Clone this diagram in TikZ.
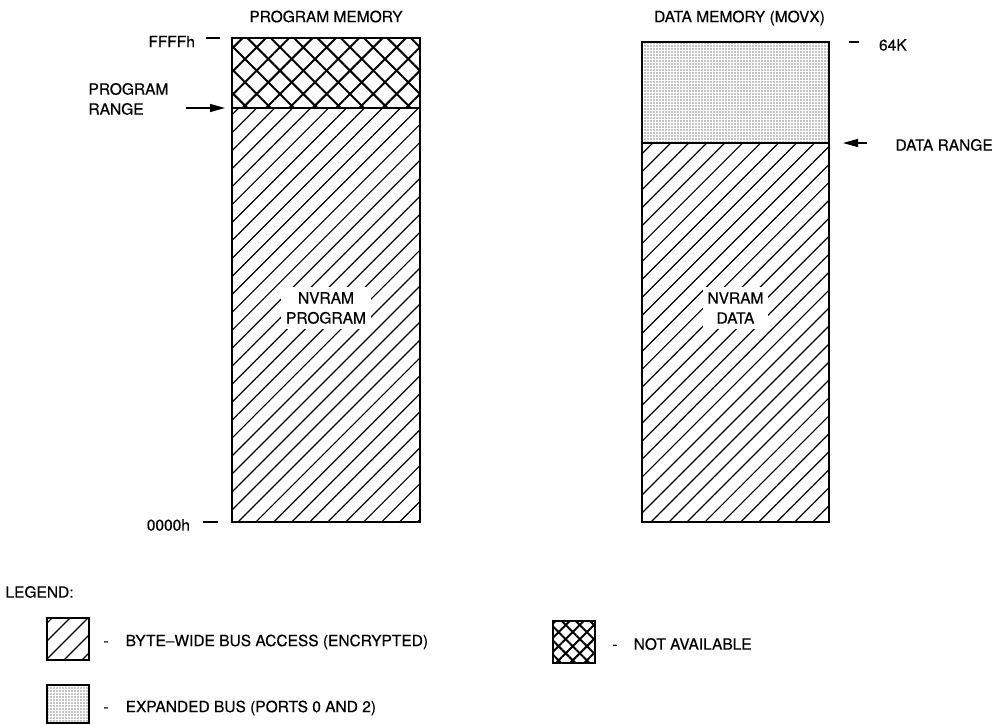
\documentclass[tikz,border=0pt]{standalone}
\usepackage{fontspec}
\setmainfont{TeX Gyre Heros}
\newfontfamily\diagfont{TeX Gyre Heros}[FakeBold=0.4, Ligatures=TeX]
\usetikzlibrary{arrows.meta,positioning,patterns.meta}

\begin{document}
\begin{tikzpicture}[
    x=1pt, y=-1pt,
    every node/.style={font=\diagfont\fontsize{15.5}{20}\selectfont},
    memblock/.style={draw, line width=1.6pt, minimum width=188pt, inner sep=0pt, outer sep=0pt, anchor=north west},
    keybox/.style={draw, line width=1.4pt, minimum width=42pt, minimum height=42pt, inner sep=0pt, outer sep=0pt, anchor=north west},
    bytewide/.style={pattern={Lines[angle=45, distance=12.7pt, line width=1.2pt]}},
    notavail/.style={pattern={Hatch[angle=45, distance=#1, line width=2pt]}},
    notavail/.default=16.5pt,
    expanded/.style={pattern={Dots[distance=3pt, radius=0.65pt]}},
    memlabel/.style={fill=white, align=center, inner sep=5pt},
    tickmark/.style={line width=1.5pt},
    arrow/.style={-{Triangle[length=15pt, width=8pt]}, line width=1.2pt}
]
\useasboundingbox (0,0) rectangle (997,724);

% program memory
\node[memblock, notavail, minimum height=70pt] (prognone) at (232,38) {};
\node[memblock, bytewide, minimum height=414pt, below=0pt of prognone] (progbyte) {};
\node[memlabel, yshift=7pt] (nvprog) at (progbyte.center) {NVRAM\\PROGRAM};
\node[above=12pt of prognone] (progtitle) {PROGRAM MEMORY};
\draw[tickmark] ([xshift=-12pt]prognone.north west) -- ++(-14,0) node[left=7pt, yshift=-3.5pt] (progtop) {FFFFh};
\draw[tickmark] ([xshift=-14pt]progbyte.south west) -- ++(-15,0) node[left=9pt, yshift=-3pt] (progbot) {0000h};
\node[anchor=west, align=left] (progrange) at (85,99) {PROGRAM\\RANGE};
\draw[arrow, shorten <=14pt, shorten >=7pt] (progrange.east |- progbyte.north west) -- (progbyte.north west);

% data memory
\node[memblock, expanded, minimum width=187pt, minimum height=101pt] (dataexp) at (642,42) {};
\node[memblock, bytewide, minimum width=187pt, minimum height=379pt, below=0pt of dataexp] (databyte) {};
\node[memlabel, yshift=24.5pt] (nvdata) at (databyte.center) {NVRAM\\DATA};
\node[above=13pt of dataexp, xshift=4pt] (datatitle) {DATA MEMORY (MOVX)};
\draw[tickmark] ([xshift=20pt]dataexp.north east) -- ++(10,0) node[right=16pt, yshift=-3pt] (datatop) {64K};
\node[anchor=west] (datarange) at (892,145) {DATA RANGE};
\draw[arrow, shorten <=25pt, shorten >=14pt] (datarange.west |- databyte.north east) -- (databyte.north east);

% legend
\node[anchor=west] (legend) at (2,592) {LEGEND:};
\node[keybox, bytewide] (keybyte) at (47,618) {};
\node[right=11pt of keybyte, yshift=-3pt] (keybytetext) {-\hspace{17pt}BYTE--WIDE BUS ACCESS (ENCRYPTED)};
\node[keybox, expanded, minimum height=38pt] (keyexp) at (47,685) {};
\node[right=11pt of keyexp, yshift=-4pt] (keyexptext) {-\hspace{17pt}EXPANDED BUS (PORTS 0 AND 2)};
\node[keybox, notavail=10pt] (keynone) at (553,621) {};
\node[right=14pt of keynone, yshift=-2pt] (keynonetext) {-\hspace{16pt}NOT AVAILABLE};
\end{tikzpicture}
\end{document}
